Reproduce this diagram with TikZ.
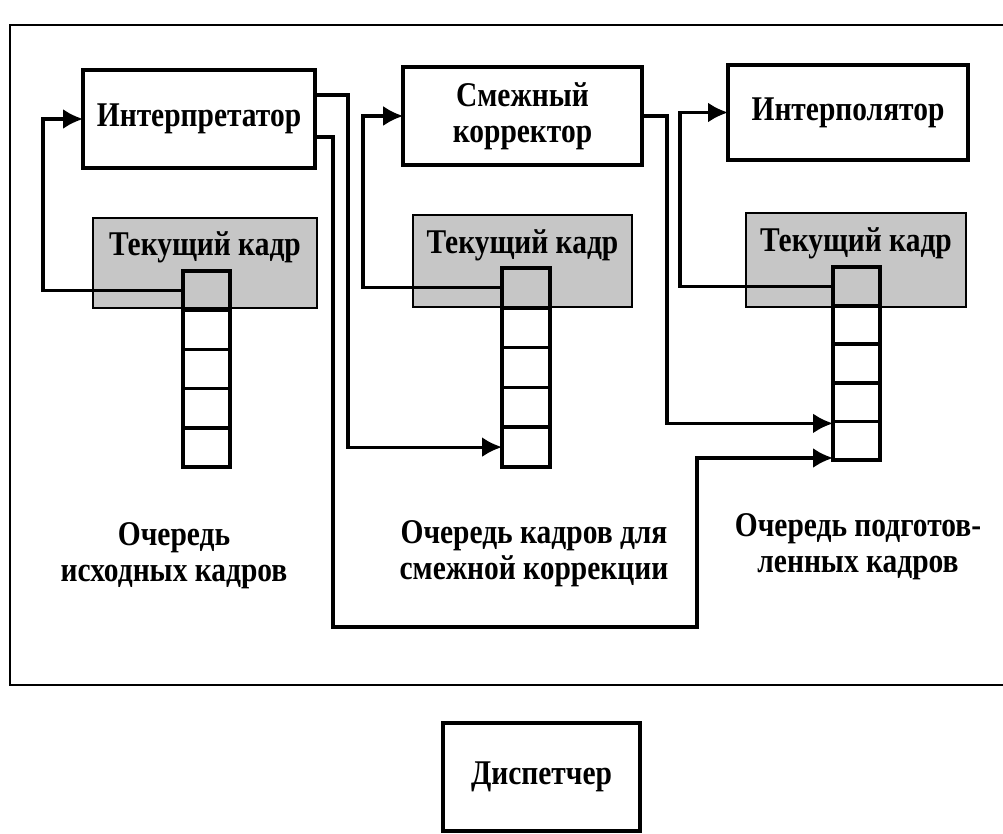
\documentclass[tikz,border=0pt]{standalone}
\usepackage{fontspec}
\setmainfont{Liberation Serif}
\newfontfamily\figfont[FakeStretch=0.85]{Liberation Serif}
\usetikzlibrary{arrows.meta,calc}
\begin{document}
\begin{tikzpicture}[x=0.75pt,y=-0.75pt,
  txt/.style={font=\figfont\bfseries\fontsize{26}{27}\selectfont},
  box/.style={txt, draw, line width=2.6pt, fill=white, inner sep=0pt, outer sep=0pt, align=center},
  curbox/.style={draw, line width=1.6pt, fill=gray!45, inner sep=0pt, outer sep=0pt},
  cell/.style={draw, line width=2.6pt, inner sep=0pt, outer sep=0pt},
  conn/.style={line width=2.4pt},
  arr/.style={conn, -{Latex[length=15pt,width=15pt]}},
  lbl/.style={txt, align=center, inner sep=0pt},
  frame/.style={line width=2pt}]
\useasboundingbox (0,0) rectangle (1003,834);
\clip (0,0) rectangle (1003,834);
% outer frame
\draw[frame] (10,25) rectangle (1020,685);
% processing boxes
\node[box, minimum width=174pt, minimum height=73.5pt] (interp) at (199,119) {Интерпретатор};
\node[box, minimum width=179pt, minimum height=73.5pt] (korr) at (522.5,116) {Смежный\\корректор};
\node[box, minimum width=180pt, minimum height=71pt] (ipol) at (848,112.5) {Интерполятор};
\node[box, minimum width=148pt, minimum height=81pt] (disp) at (541.5,777) {Диспетчер};
% current frame areas
\node[curbox, minimum width=168pt, minimum height=67.5pt] (cur1) at (205,263) {};
\node[curbox, minimum width=164pt, minimum height=69pt] (cur2) at (522.5,261) {};
\node[curbox, minimum width=165pt, minimum height=70.5pt] (cur3) at (856,260) {};
\node[lbl] (cur1t) at (205,247) {Текущий кадр};
\node[lbl] (cur2t) at (522.5,245) {Текущий кадр};
\node[lbl] (cur3t) at (856,243) {Текущий кадр};
% queues
\foreach \i in {1,...,5}{
  \node[cell, minimum width=35.25pt, minimum height=29.4pt] (q1c\i) at (206.5,{271+39.2*(\i-0.5)}) {};
  \node[cell, minimum width=36pt, minimum height=29.85pt] (q2c\i) at (526,{268+39.8*(\i-0.5)}) {};
  \node[cell, minimum width=35.25pt, minimum height=28.95pt] (q3c\i) at (856.5,{267+38.6*(\i-0.5)}) {};
}
% queue labels
\node[lbl] (lab1) at (174,556) {Очередь\\исходных кадров};
\node[lbl] (lab2) at (534,554) {Очередь кадров для\\смежной коррекции};
\node[lbl] (lab3) at (858,547) {Очередь подготов-\\ленных кадров};
% helper coordinates
\coordinate (fb1) at (43,0);
\coordinate (fb2) at (363,0);
\coordinate (fb3) at (680,0);
\coordinate (r1) at (348,0);
\coordinate (r2) at (333,0);
\coordinate (r3) at (667,0);
\coordinate (loopB) at (0,627);
\coordinate (loopR) at (697,0);
\coordinate (io1) at ($(interp.north east)+(0,25)$);
\coordinate (io2) at ($(interp.north east)+(0,67)$);
\coordinate (q3in1) at ($(q3c4.south west)+(0,2)$);
\coordinate (q3in2) at ($(q3c5.south west)+(0,-2)$);
% feedback connectors (queue head -> processor)
\draw[arr] (q1c1.west) -- (q1c1.west -| fb1) |- (interp.west);
\draw[arr] (q2c1.west) -- (q2c1.west -| fb2) |- (korr.west);
\draw[arr] (q3c1.west) -- (q3c1.west -| fb3) |- (ipol.west);
% interpreter outputs
\draw[arr] (io1) -- (io1 -| r1) |- (q2c5.west);
\draw[arr] (io2) -- (io2 -| r2) -- (r2 |- loopB) -- (loopR |- loopB) |- (q3in2);
% corrector output
\draw[arr] (korr.east) -- (korr.east -| r3) |- (q3in1);
\end{tikzpicture}
\end{document}
